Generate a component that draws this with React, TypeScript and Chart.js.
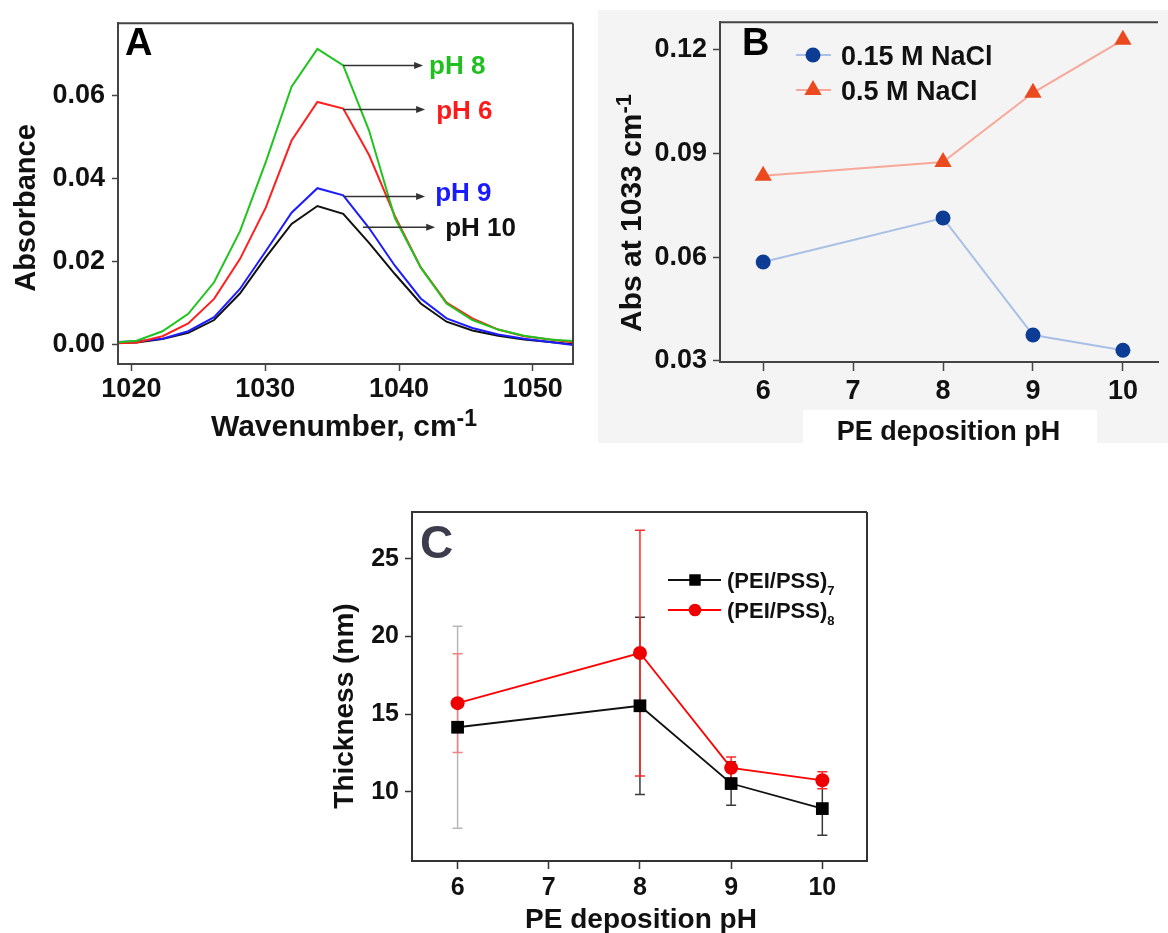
import React, { useEffect, useRef } from "react";
import { Chart, registerables } from "chart.js";

Chart.register(...registerables);

const FONT = "'Liberation Sans', Arial, Helvetica, sans-serif";
const W = 1168;
const H = 933;

// ---------------- Panel A data ----------------
const A_WAVENUMBER = [1018.46, 1020.39, 1022.32, 1024.25, 1026.18, 1028.11, 1030.04, 1031.97, 1033.9, 1035.83, 1037.76, 1039.69, 1041.62, 1043.55, 1045.48, 1047.41, 1049.34, 1051.27, 1053.2];
const A_PH8 = [0.0004, 0.0009, 0.0032, 0.0074, 0.015, 0.0273, 0.044, 0.0622, 0.0713, 0.0673, 0.0516, 0.0305, 0.0186, 0.0099, 0.0059, 0.0036, 0.0021, 0.0012, 0.0008];
const A_PH6 = [0.0002, 0.0005, 0.002, 0.0051, 0.011, 0.0206, 0.033, 0.0492, 0.0585, 0.0569, 0.0457, 0.031, 0.0186, 0.0101, 0.0063, 0.0036, 0.002, 0.0012, 0.0005];
const A_PH9 = [0.0005, 0.0008, 0.0014, 0.0032, 0.0066, 0.0134, 0.0225, 0.0318, 0.0377, 0.036, 0.0281, 0.019, 0.0111, 0.0063, 0.004, 0.0024, 0.0014, 0.0006, -0.0002];
const A_PH10 = [0.0003, 0.0005, 0.0013, 0.0028, 0.0059, 0.0123, 0.021, 0.0291, 0.0334, 0.0315, 0.0245, 0.017, 0.0099, 0.0055, 0.0034, 0.0021, 0.0012, 0.0006, 0.0];
const A_X_TICKS = [1020, 1030, 1040, 1050];
const A_Y_TICKS = [0, 0.02, 0.04, 0.06];

// ---------------- Panel B data ----------------
const B_PH = [6, 8, 9, 10];
const B_NACL_015 = [0.0586, 0.0713, 0.0375, 0.0331];
const B_NACL_05 = [0.0835, 0.0875, 0.1075, 0.1228];
const B_X_TICKS = [6, 7, 8, 9, 10];
const B_Y_TICKS = [0.03, 0.06, 0.09, 0.12];

// ---------------- Panel C data ----------------
const C_PH = [6, 8, 9, 10];
const C_PEI_PSS_7 = [14.16, 15.54, 10.54, 8.93];
const C_PEI_PSS_7_ERR = [6.5, 5.7, 1.4, 1.72];
const C_PEI_PSS_8 = [15.71, 18.93, 11.55, 10.75];
const C_PEI_PSS_8_ERR = [3.17, 7.9, 0.7, 0.55];
const C_X_TICKS = [6, 7, 8, 9, 10];
const C_Y_TICKS = [10, 15, 20, 25];

// ---------------- helpers ----------------
type Seg = [string, number, number?];

function rich(ctx: any, segs: Seg[], x: number, y: number, align: string, color: string, rotate = false) {
  ctx.save();
  ctx.fillStyle = color;
  ctx.textBaseline = "alphabetic";
  ctx.textAlign = "left";
  const widths = segs.map((s) => {
    ctx.font = `bold ${s[1]}px ${FONT}`;
    return ctx.measureText(s[0]).width;
  });
  const total = widths.reduce((p, c) => p + c, 0);
  ctx.translate(x, y);
  if (rotate) ctx.rotate(-Math.PI / 2);
  let cx = align === "center" ? -total / 2 : align === "right" ? -total : 0;
  segs.forEach((s, i) => {
    ctx.font = `bold ${s[1]}px ${FONT}`;
    ctx.fillText(s[0], cx, s[2] || 0);
    cx += widths[i];
  });
  ctx.restore();
}

function marker(ctx: any, style: string, r: number, x: number, y: number, color: string) {
  ctx.save();
  ctx.fillStyle = color;
  ctx.beginPath();
  if (style === "triangle") {
    for (let k = 0; k < 3; k++) {
      const a = (k * 2 * Math.PI) / 3;
      const px = x + Math.sin(a) * r;
      const py = y - Math.cos(a) * r;
      if (k === 0) ctx.moveTo(px, py);
      else ctx.lineTo(px, py);
    }
    ctx.closePath();
  } else if (style === "rect") {
    const s = r * Math.SQRT1_2;
    ctx.rect(x - s, y - s, 2 * s, 2 * s);
  } else {
    ctx.arc(x, y, r, 0, Math.PI * 2);
  }
  ctx.fill();
  ctx.restore();
}

function frame(ctx: any, a: any, color: string, sides = "trbl") {
  ctx.save();
  ctx.strokeStyle = color;
  ctx.lineWidth = 2;
  ctx.beginPath();
  if (sides.includes("t")) { ctx.moveTo(a.left, a.top); ctx.lineTo(a.right, a.top); }
  if (sides.includes("r")) { ctx.moveTo(a.right, a.top); ctx.lineTo(a.right, a.bottom); }
  if (sides.includes("b")) { ctx.moveTo(a.left, a.bottom); ctx.lineTo(a.right, a.bottom); }
  if (sides.includes("l")) { ctx.moveTo(a.left, a.top); ctx.lineTo(a.left, a.bottom); }
  ctx.stroke();
  ctx.restore();
}

function arrow(ctx: any, x1: number, y1: number, x2: number, y2: number, color: string) {
  ctx.save();
  ctx.strokeStyle = color;
  ctx.fillStyle = color;
  ctx.lineWidth = 1.5;
  ctx.beginPath();
  ctx.moveTo(x1, y1);
  ctx.lineTo(x2 - 7, y2);
  ctx.stroke();
  ctx.beginPath();
  ctx.moveTo(x2, y2);
  ctx.lineTo(x2 - 9, y2 - 3.5);
  ctx.lineTo(x2 - 9, y2 + 3.5);
  ctx.closePath();
  ctx.fill();
  ctx.restore();
}

function axis(o: any) {
  return {
    type: "linear",
    min: o.min,
    max: o.max,
    afterBuildTicks: (s: any) => {
      s.ticks = o.ticks.map((v: number) => ({ value: v }));
    },
    afterFit: (s: any) => {
      if (o.horizontal) s.height = o.fit;
      else s.width = o.fit;
    },
    grid: { drawOnChartArea: false, drawTicks: true, tickLength: o.tickLen, tickWidth: 1.5, tickColor: o.color, color: o.color },
    border: { display: true, color: o.color, width: 2 },
    ticks: {
      color: "#111",
      font: { family: FONT, size: o.size, weight: "bold" },
      padding: o.pad,
      autoSkip: false,
      maxRotation: 0,
      minRotation: 0,
      callback: (v: number) => o.fmt(v),
    },
  };
}

const xy = (xs: number[], ys: number[]) => xs.map((x, i) => ({ x, y: ys[i] }));

function baseOptions(area: any, xAxis: any, yAxis: any) {
  return {
    responsive: false,
    animation: false,
    events: [],
    layout: {
      padding: {
        left: area.left - 80,
        top: area.top,
        right: W - area.right,
        bottom: H - area.bottom - 60,
      },
    },
    scales: { x: xAxis, y: yAxis },
    plugins: { legend: { display: false }, tooltip: { enabled: false } },
    elements: { line: { tension: 0 } },
  };
}

// ---------------- Panel A ----------------
function buildA() {
  const notes = [
    { label: "pH 8", color: "#1fbf1f", from: [1035.83, 0.0673], tip: 1041.8, gap: 6, dy: -1 },
    { label: "pH 6", color: "#ff1a1a", from: [1035.83, 0.0567], tip: 1041.95, gap: 11, dy: 0 },
    { label: "pH 9", color: "#1a1aff", from: [1035.9, 0.0357], tip: 1041.95, gap: 10, dy: -5 },
    { label: "pH 10", color: "#111111", from: [1037.3, 0.0283], tip: 1042.7, gap: 10, dy: 0 },
  ];
  const plugin = {
    id: "panelA",
    afterDraw(chart: any) {
      const { ctx, chartArea: a, scales } = chart;
      frame(ctx, a, "#444");
      rich(ctx, [["A", 38]], 125, 55, "left", "#000");
      rich(ctx, [["Absorbance", 29]], 34.5, 208, "center", "#111", true);
      rich(ctx, [["Wavenumber, cm", 30], ["-1", 23, -10]], 344, 436, "center", "#111");
      notes.forEach((n) => {
        const x1 = scales.x.getPixelForValue(n.from[0]);
        const y1 = scales.y.getPixelForValue(n.from[1]);
        const x2 = scales.x.getPixelForValue(n.tip);
        arrow(ctx, x1, y1, x2, y1, "#333");
        rich(ctx, [[n.label, 26]], x2 + n.gap, y1 + n.dy + 9.3, "left", n.color);
      });
    },
  };
  const line = (label: string, ys: number[], color: string) => ({
    label,
    data: xy(A_WAVENUMBER, ys),
    borderColor: color,
    borderWidth: 2,
    pointRadius: 0,
    fill: false,
  });
  const area = { left: 118, top: 15, right: 573, bottom: 364 };
  return {
    type: "line",
    data: {
      datasets: [
        line("pH 8", A_PH8, "#1fc41f"),
        line("pH 6", A_PH6, "#ff2020"),
        line("pH 9", A_PH9, "#1c1cff"),
        line("pH 10", A_PH10, "#111111"),
      ],
    },
    options: baseOptions(
      area,
      axis({ min: 1019, max: 1053, ticks: A_X_TICKS, fmt: (v: number) => String(v), size: 27, tickLen: 7, pad: 2, fit: 60, horizontal: true, color: "#444" }),
      axis({ min: -0.0047, max: 0.0775, ticks: A_Y_TICKS, fmt: (v: number) => v.toFixed(2), size: 27, tickLen: 6, pad: 7, fit: 80, horizontal: false, color: "#444" })
    ),
    plugins: [plugin],
  };
}

// ---------------- Panel B ----------------
function buildB() {
  const plugin = {
    id: "panelB",
    beforeDraw(chart: any) {
      const { ctx } = chart;
      ctx.save();
      ctx.fillStyle = "#f4f4f4";
      ctx.fillRect(598, 10, 570, 433);
      ctx.fillStyle = "#ffffff";
      ctx.fillRect(803, 410, 294, 33);
      ctx.restore();
    },
    afterDraw(chart: any) {
      const { ctx, chartArea: a, data } = chart;
      frame(ctx, a, "#444", "t");
      rich(ctx, [["B", 38]], 742, 55, "left", "#000");
      rich(ctx, [["Abs at 1033 cm", 30], ["-1", 22, -10]], 640.5, 213, "center", "#111", true);
      rich(ctx, [["PE deposition pH", 27]], 948.5, 440, "center", "#111");
      const rows = [55, 90];
      data.datasets.forEach((ds: any, i: number) => {
        const y = rows[i];
        ctx.save();
        ctx.strokeStyle = ds.borderColor;
        ctx.lineWidth = 2;
        ctx.beginPath();
        ctx.moveTo(796, y);
        ctx.lineTo(831, y);
        ctx.stroke();
        ctx.restore();
        marker(ctx, ds.pointStyle, ds.pointRadius, 813, y, ds.pointBackgroundColor);
        rich(ctx, [[ds.label, 27]], 841, y + 9.7, "left", "#111");
      });
    },
  };
  const area = { left: 720, top: 15, right: 1168, bottom: 362 };
  return {
    type: "line",
    data: {
      datasets: [
        {
          label: "0.15 M NaCl",
          data: xy(B_PH, B_NACL_015),
          borderColor: "#a9c0e6",
          borderWidth: 2,
          pointStyle: "circle",
          pointRadius: 7.5,
          pointBackgroundColor: "#0c3c93",
          pointBorderColor: "#0c3c93",
          pointBorderWidth: 0,
        },
        {
          label: "0.5 M NaCl",
          data: xy(B_PH, B_NACL_05),
          borderColor: "#f8a898",
          borderWidth: 2,
          pointStyle: "triangle",
          pointRadius: 10,
          pointBackgroundColor: "#ea4a1e",
          pointBorderColor: "#ea4a1e",
          pointBorderWidth: 0,
        },
      ],
    },
    options: baseOptions(
      area,
      axis({ min: 5.52, max: 10.39, ticks: B_X_TICKS, fmt: (v: number) => String(v), size: 27, tickLen: 9, pad: 4, fit: 60, horizontal: true, color: "#444" }),
      axis({ min: 0.0297, max: 0.1279, ticks: B_Y_TICKS, fmt: (v: number) => v.toFixed(2), size: 27, tickLen: 7, pad: 6, fit: 80, horizontal: false, color: "#444" })
    ),
    plugins: [plugin],
  };
}

// ---------------- Panel C ----------------
function buildC() {
  const errStyles = [
    { ds: 1, err: C_PEI_PSS_7_ERR, colors: ["#b8b8b8", "#3a3a3a", "#3a3a3a", "#3a3a3a"] },
    { ds: 0, err: C_PEI_PSS_8_ERR, colors: ["#f28080", "#ff2a2a", "#ff2a2a", "#ff2a2a"] },
  ];
  const legendRows = [
    { ds: 1, sub: "7", y: 580 },
    { ds: 0, sub: "8", y: 610 },
  ];
  const plugin = {
    id: "panelC",
    beforeDatasetsDraw(chart: any) {
      const { ctx, scales, data } = chart;
      errStyles.forEach((e) => {
        const pts = data.datasets[e.ds].data;
        pts.forEach((p: any, i: number) => {
          const x = scales.x.getPixelForValue(p.x);
          const yt = scales.y.getPixelForValue(p.y + e.err[i]);
          const yb = scales.y.getPixelForValue(p.y - e.err[i]);
          ctx.save();
          ctx.strokeStyle = e.colors[i];
          ctx.lineWidth = 1.5;
          ctx.beginPath();
          ctx.moveTo(x, yt);
          ctx.lineTo(x, yb);
          ctx.moveTo(x - 5, yt);
          ctx.lineTo(x + 5, yt);
          ctx.moveTo(x - 5, yb);
          ctx.lineTo(x + 5, yb);
          ctx.stroke();
          ctx.restore();
        });
      });
    },
    afterDraw(chart: any) {
      const { ctx, chartArea: a, data } = chart;
      frame(ctx, a, "#333");
      rich(ctx, [["C", 46]], 420, 558, "left", "#3c3c4c");
      rich(ctx, [["Thickness (nm)", 28]], 353, 706, "center", "#111", true);
      rich(ctx, [["PE deposition pH", 28]], 641, 928, "center", "#111");
      legendRows.forEach((r) => {
        const ds = data.datasets[r.ds];
        ctx.save();
        ctx.strokeStyle = ds.borderColor;
        ctx.lineWidth = 2;
        ctx.beginPath();
        ctx.moveTo(668, r.y);
        ctx.lineTo(721, r.y);
        ctx.stroke();
        ctx.restore();
        marker(ctx, ds.pointStyle, ds.pointRadius * 0.9, 695, r.y, ds.pointBackgroundColor);
        rich(ctx, [[ds.label, 22], [r.sub, 13, 7]], 727, r.y + 7.5, "left", "#111");
      });
    },
  };
  const area = { left: 412, top: 512, right: 867, bottom: 861 };
  return {
    type: "line",
    data: {
      datasets: [
        {
          label: "(PEI/PSS)",
          data: xy(C_PH, C_PEI_PSS_8),
          borderColor: "#ff0000",
          borderWidth: 1.8,
          pointStyle: "circle",
          pointRadius: 7,
          pointBackgroundColor: "#ee0000",
          pointBorderColor: "#ee0000",
          pointBorderWidth: 0,
        },
        {
          label: "(PEI/PSS)",
          data: xy(C_PH, C_PEI_PSS_7),
          borderColor: "#111111",
          borderWidth: 1.8,
          pointStyle: "rect",
          pointRadius: 9,
          pointBackgroundColor: "#000000",
          pointBorderColor: "#000000",
          pointBorderWidth: 0,
        },
      ],
    },
    options: baseOptions(
      area,
      axis({ min: 5.5, max: 10.49, ticks: C_X_TICKS, fmt: (v: number) => String(v), size: 25, tickLen: 8, pad: 4, fit: 60, horizontal: true, color: "#333" }),
      axis({ min: 5.56, max: 28.0, ticks: C_Y_TICKS, fmt: (v: number) => String(v), size: 25, tickLen: 7, pad: 6, fit: 80, horizontal: false, color: "#333" })
    ),
    plugins: [plugin],
  };
}

function ChartCanvas({ build }: { build: () => any }) {
  const ref = useRef<HTMLCanvasElement>(null);
  useEffect(() => {
    const chart = new Chart(ref.current as HTMLCanvasElement, build() as any);
    return () => chart.destroy();
  }, []);
  return (
    <canvas
      ref={ref}
      width={W}
      height={H}
      style={{ position: "absolute", left: 0, top: 0, width: W, height: H }}
    />
  );
}

export default function App() {
  return (
    <div style={{ position: "absolute", left: 0, top: 0, width: W, height: H, background: "#ffffff", overflow: "hidden" }}>
      <ChartCanvas build={buildB} />
      <ChartCanvas build={buildA} />
      <ChartCanvas build={buildC} />
    </div>
  );
}
